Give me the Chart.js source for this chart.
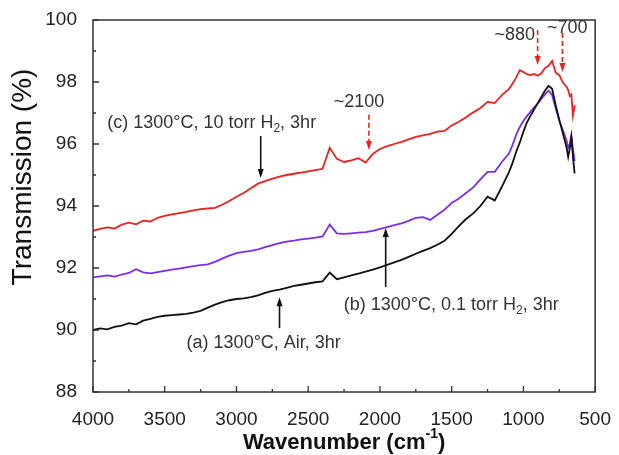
<!DOCTYPE html>
<html>
<head>
<meta charset="utf-8">
<script src="https://cdn.jsdelivr.net/npm/chart.js@4.4.1/dist/chart.umd.min.js"></script>
<style>
    html, body { margin: 0; padding: 0; background: #fff; }
    #wrap { width: 619px; height: 455px; }
</style>
</head>
<body>
<div id="wrap"><canvas id="ftirChart"></canvas></div>
<script>
// wavenumber grid (cm-1)
const wavenumbers = [
    4000, 3950, 3900, 3850, 3800, 3750, 3700, 3650, 3600, 3550,
    3500, 3450, 3400, 3350, 3300, 3250, 3200, 3150, 3100, 3050,
    3000, 2950, 2900, 2850, 2800, 2750, 2700, 2650, 2600, 2550,
    2500, 2450, 2400, 2350, 2300, 2250, 2200, 2150, 2100, 2050,
    2000, 1950, 1900, 1850, 1800, 1750, 1700, 1650, 1600, 1550,
    1500, 1450, 1400, 1350, 1300, 1250, 1200, 1150, 1100,
    1075, 1050, 1025, 1000, 975, 950, 925, 900, 875, 850, 825, 800, 775, 750, 725, 700,
    688, 677, 666, 655, 643
];

// (a) 1300°C, Air, 3hr
const airValues = [
    90.00, 90.05, 90.02, 90.10, 90.14, 90.22, 90.18, 90.30, 90.36, 90.42,
    90.46, 90.48, 90.50, 90.52, 90.56, 90.62, 90.72, 90.82, 90.90, 90.96,
    91.00, 91.02, 91.06, 91.12, 91.20, 91.26, 91.30, 91.36, 91.42, 91.46,
    91.50, 91.54, 91.57, 91.85, 91.64, 91.70, 91.76, 91.82, 91.88, 91.95,
    92.02, 92.10, 92.18, 92.26, 92.36, 92.46, 92.55, 92.64, 92.75, 92.88,
    93.10, 93.35, 93.58, 93.76, 94.00, 94.30, 94.18, 94.62, 95.10,
    95.40, 95.76, 96.05, 96.40, 96.70, 96.92, 97.12, 97.32, 97.52, 97.72, 97.88, 97.78, 97.25, 96.78, 96.35, 95.90,
    95.58, 95.85, 96.22, 95.60, 95.05
];

// (b) 1300°C, 0.1 torr H2, 3hr
const lowH2Values = [
    91.70, 91.73, 91.76, 91.72, 91.79, 91.84, 91.96, 91.86, 91.83, 91.87,
    91.91, 91.95, 91.98, 92.02, 92.06, 92.09, 92.12, 92.20, 92.30, 92.40,
    92.48, 92.52, 92.55, 92.60, 92.67, 92.74, 92.80, 92.85, 92.88, 92.92,
    92.95, 92.98, 93.02, 93.40, 93.12, 93.10, 93.12, 93.14, 93.16, 93.20,
    93.26, 93.32, 93.38, 93.44, 93.52, 93.62, 93.64, 93.55, 93.72, 93.88,
    94.10, 94.24, 94.42, 94.60, 94.86, 95.10, 95.10, 95.42, 95.70,
    95.98, 96.30, 96.55, 96.75, 96.90, 97.05, 97.18, 97.30, 97.45, 97.60, 97.72, 97.58, 97.15, 96.75, 96.45, 96.12,
    95.88, 96.00, 96.28, 95.85, 95.45
];

// (c) 1300°C, 10 torr H2, 3hr
const highH2Values = [
    93.20, 93.26, 93.31, 93.27, 93.40, 93.46, 93.41, 93.53, 93.50, 93.62,
    93.68, 93.73, 93.77, 93.81, 93.86, 93.90, 93.92, 93.94, 94.04, 94.16,
    94.30, 94.42, 94.57, 94.72, 94.80, 94.88, 94.95, 95.00, 95.04, 95.08,
    95.12, 95.16, 95.20, 95.88, 95.52, 95.42, 95.47, 95.54, 95.40, 95.68,
    95.84, 95.93, 96.00, 96.07, 96.15, 96.23, 96.28, 96.33, 96.40, 96.42,
    96.60, 96.72, 96.86, 97.02, 97.16, 97.36, 97.32, 97.58, 97.78,
    97.95, 98.15, 98.38, 98.32, 98.25, 98.22, 98.26, 98.20, 98.28, 98.45, 98.52, 98.68, 98.30, 98.22, 97.98, 97.85,
    97.74, 97.55, 97.60, 96.92, 97.25
];

const FONT = "'Liberation Sans', Arial, sans-serif";

// labels on the plot, placed in data units
const notes = [
    { parts: [['(c) 1300°C, 10 torr H'], ['2', 'sub'], [', 3hr']], x: 3173, y: 96.68 },
    { parts: [['(b) 1300°C, 0.1 torr H'], ['2', 'sub'], [', 3hr']], x: 1503, y: 90.81 },
    { parts: [['(a) 1300°C, Air, 3hr']], x: 2810, y: 89.58 },
    { parts: [['~2100']], x: 2146, y: 97.35 },
    { parts: [['~880']], x: 1060, y: 99.52 },
    { parts: [['~700']], x: 694, y: 99.74 }
];

const arrows = [
    { x: 2831, from: 96.26, to: 94.90, color: '#111', dash: [] },
    { x: 1960, from: 91.39, to: 93.29, color: '#111', dash: [] },
    { x: 2700, from: 90.06, to: 91.06, color: '#111', dash: [] },
    { x: 2077, from: 96.94, to: 95.81, color: '#f0201e', dash: [5, 3] },
    { x: 901, from: 99.68, to: 98.55, color: '#f0201e', dash: [5, 3] },
    { x: 728, from: 99.58, to: 98.32, color: '#f0201e', dash: [5, 3] }
];

function toPoints(values) {
    return wavenumbers.map((w, i) => ({ x: w, y: values[i] }));
}

function partFont(part, size, weight) {
    let s = part[1] ? Math.round(size * 0.65) : size;
    return (weight || '') + ' ' + s + 'px ' + FONT;
}

function drawRich(ctx, parts, cx, cy, size, weight) {
    let widths = parts.map(p => {
        ctx.font = partFont(p, size, weight);
        return ctx.measureText(p[0]).width;
    });
    let total = widths.reduce((s, w) => s + w, 0);
    let px = cx - total / 2;
    parts.forEach((p, i) => {
        ctx.font = partFont(p, size, weight);
        let dy = 0;
        if (p[1] === 'sub') dy = size * 0.3;
        if (p[1] === 'sup') dy = -size * 0.4;
        ctx.fillText(p[0], px, cy + dy);
        px += widths[i];
    });
}

const ftirDecor = {
    id: 'ftirDecor',
    afterDraw(chart) {
        const { ctx, chartArea: a, scales: { x, y } } = chart;
        ctx.save();

        // box frame
        ctx.strokeStyle = '#333';
        ctx.lineWidth = 1.5;
        ctx.strokeRect(a.left, a.top, a.right - a.left, a.bottom - a.top);

        // inward ticks on bottom and left
        ctx.lineWidth = 1.3;
        ctx.beginPath();
        for (let v = 500; v <= 4000; v += 250) {
            let px = x.getPixelForValue(v);
            let len = v % 500 === 0 ? 6 : 3;
            ctx.moveTo(px, a.bottom);
            ctx.lineTo(px, a.bottom - len);
        }
        for (let v = 88; v <= 100; v += 1) {
            let py = y.getPixelForValue(v);
            let len = v % 2 === 0 ? 6 : 3;
            ctx.moveTo(a.left, py);
            ctx.lineTo(a.left + len, py);
        }
        ctx.stroke();

        // arrows
        arrows.forEach(ar => {
            let px = x.getPixelForValue(ar.x);
            let y1 = y.getPixelForValue(ar.from);
            let y2 = y.getPixelForValue(ar.to);
            let dir = y2 > y1 ? 1 : -1;
            ctx.strokeStyle = ar.color;
            ctx.fillStyle = ar.color;
            ctx.lineWidth = 1.6;
            ctx.setLineDash(ar.dash);
            ctx.beginPath();
            ctx.moveTo(px, y1);
            ctx.lineTo(px, y2 - dir * 7);
            ctx.stroke();
            ctx.setLineDash([]);
            ctx.beginPath();
            ctx.moveTo(px, y2);
            ctx.lineTo(px - 3, y2 - dir * 9);
            ctx.lineTo(px + 3, y2 - dir * 9);
            ctx.closePath();
            ctx.fill();
        });

        // notes
        ctx.fillStyle = '#333';
        ctx.textAlign = 'left';
        ctx.textBaseline = 'middle';
        notes.forEach(n => {
            drawRich(ctx, n.parts, x.getPixelForValue(n.x), y.getPixelForValue(n.y), 18);
        });

        // axis titles
        ctx.fillStyle = '#111';
        drawRich(ctx, [['Wavenumber (cm'], ['-1', 'sup'], [')']], (a.left + a.right) / 2, 443, 22, 'bold');

        ctx.save();
        ctx.translate(23, 177);
        ctx.rotate(-Math.PI / 2);
        ctx.textAlign = 'center';
        ctx.font = '28px ' + FONT;
        ctx.fillText('Transmission (%)', 0, 0);
        ctx.restore();

        ctx.restore();
    }
};

document.addEventListener("DOMContentLoaded", () => {
    buildFtirChart();
});

function buildFtirChart() {
    let ctx = document.getElementById('ftirChart');

    new Chart(ctx, {
        type: 'line',
        data: {
            datasets: [
                { label: '(a) 1300°C, Air, 3hr', data: toPoints(airValues), borderColor: '#111111' },
                { label: '(b) 1300°C, 0.1 torr H2, 3hr', data: toPoints(lowH2Values), borderColor: '#7b2cf2' },
                { label: '(c) 1300°C, 10 torr H2, 3hr', data: toPoints(highH2Values), borderColor: '#f0201e' }
            ]
        },
        options: {
            responsive: true,
            maintainAspectRatio: false,
            animation: false,
            layout: { padding: { top: 20, right: 20, left: 0, bottom: 0 } },
            elements: {
                line: { borderWidth: 1.8, tension: 0, fill: false },
                point: { radius: 0 }
            },
            plugins: {
                legend: { display: false },
                tooltip: { enabled: false }
            },
            scales: {
                x: {
                    type: 'linear',
                    reverse: true,
                    min: 500,
                    max: 4000,
                    grid: { display: false },
                    border: { display: false },
                    ticks: {
                        stepSize: 500,
                        padding: 8,
                        color: '#222',
                        maxRotation: 0,
                        font: { family: FONT, size: 19 },
                        callback: (value) => String(value)
                    },
                    afterFit: (scale) => { scale.height = 63; }
                },
                y: {
                    min: 88,
                    max: 100,
                    grid: { display: false },
                    border: { display: false },
                    ticks: {
                        stepSize: 2,
                        padding: 8,
                        color: '#222',
                        font: { family: FONT, size: 19 },
                        callback: (value) => String(value)
                    },
                    afterFit: (scale) => { scale.width = 93; }
                }
            }
        },
        plugins: [ftirDecor]
    });
}
</script>
</body>
</html>
